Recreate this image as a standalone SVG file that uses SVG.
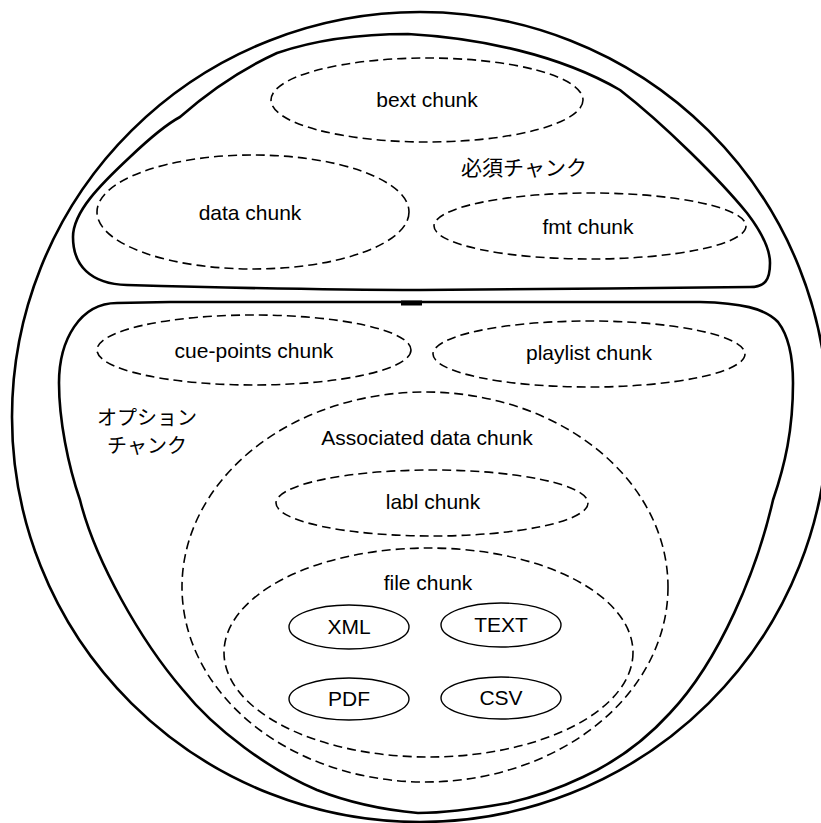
<svg xmlns="http://www.w3.org/2000/svg" width="821" height="823" viewBox="0 0 821 823">
<style>
.bound{fill:none;stroke:#000;stroke-width:2.6;stroke-linejoin:round}
.dash{fill:none;stroke:#000;stroke-width:1.6;stroke-dasharray:9 5}
.oval{fill:none;stroke:#000;stroke-width:1.4}
.t{font-family:"Liberation Sans",Arial,sans-serif;font-size:21px;fill:#000;text-anchor:middle}
.jp{font-family:"Noto Sans CJK JP","Noto Sans CJK SC",sans-serif;font-size:21px;fill:#000;text-anchor:middle}
</style>
<rect width="821" height="823" fill="#fff"/>
<g id="outer">
<ellipse class="bound" cx="420" cy="417" rx="408" ry="405"/>
</g>
<g id="required">
<path class="bound" d="M408,34 C480,38 560,55 620,90 C665,125 720,180 747,213 C760,230 770,248 770,263 C770,280 765,287 750,287 C650,288 500,290 420,290 C320,290 200,287 127,285 C90,284 73,265 73,237 C73,212 100,185 130,157 C150,138 165,125 180,117 C205,95 240,70 277,53 C315,40 360,34 408,34 Z"/>
<text class="jp" x="524" y="175">必須チャンク</text>
</g>
<g id="bext">
<ellipse class="dash" cx="427" cy="100" rx="156" ry="42"/>
<text class="t" x="427" y="107">bext chunk</text>
</g>
<g id="data">
<ellipse class="dash" cx="253" cy="212" rx="156" ry="57"/>
<text class="t" x="250" y="220">data chunk</text>
</g>
<g id="fmt">
<ellipse class="dash" cx="590" cy="226" rx="156" ry="33"/>
<text class="t" x="588" y="234">fmt chunk</text>
</g>
<g id="optional">
<path class="bound" d="M170,302 L700,302 C740,303 765,308 778,322 C788,335 793,355 793,383 C793,430 785,465 773,500 C757,570 720,660 670,713 C650,735 620,760 583,777 C560,788 535,797 508,803 C480,808 450,813 418,813 C385,810 350,803 317,790 C270,770 215,730 183,690 C140,640 95,560 80,500 C68,465 59,420 59,383 C59,340 80,303 117,303 Z"/>
<rect x="401" y="300.5" width="21" height="5" fill="#000"/>
<text class="jp" x="147" y="425" style="font-size:20px">オプション</text>
<text class="jp" x="147" y="453" style="font-size:20px">チャンク</text>
</g>
<g id="cue-points">
<ellipse class="dash" cx="254" cy="350" rx="157" ry="35"/>
<text class="t" x="254" y="358">cue-points chunk</text>
</g>
<g id="playlist">
<ellipse class="dash" cx="589" cy="354" rx="156" ry="33"/>
<text class="t" x="589" y="360">playlist chunk</text>
</g>
<g id="associated">
<ellipse class="dash" cx="425" cy="587" rx="243" ry="195"/>
<text class="t" x="427" y="445">Associated data chunk</text>
</g>
<g id="labl">
<ellipse class="dash" cx="432" cy="503" rx="156" ry="33"/>
<text class="t" x="433" y="509">labl chunk</text>
</g>
<g id="file">
<ellipse class="dash" cx="428.5" cy="652.5" rx="204.5" ry="104.5"/>
<text class="t" x="428" y="590">file chunk</text>
</g>
<g id="xml">
<ellipse class="oval" cx="349" cy="627" rx="60" ry="22"/>
<text class="t" x="349" y="634">XML</text>
</g>
<g id="text">
<ellipse class="oval" cx="501" cy="625" rx="60" ry="22"/>
<text class="t" x="501" y="632">TEXT</text>
</g>
<g id="pdf">
<ellipse class="oval" cx="349" cy="699" rx="60" ry="21"/>
<text class="t" x="349" y="706">PDF</text>
</g>
<g id="csv">
<ellipse class="oval" cx="501" cy="698" rx="60" ry="21"/>
<text class="t" x="501" y="705">CSV</text>
</g>
</svg>
